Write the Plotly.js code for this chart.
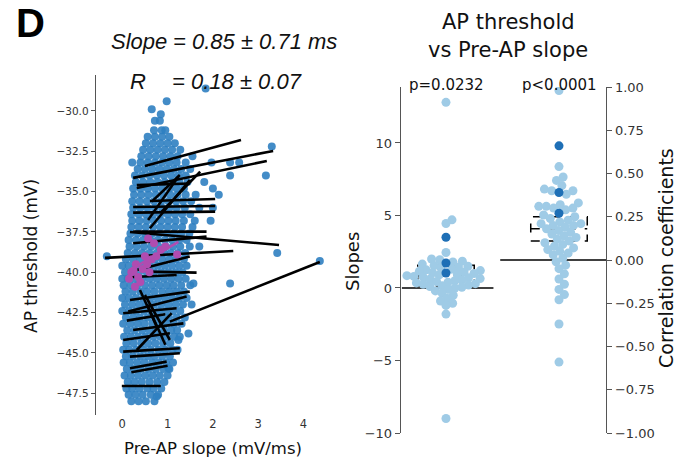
<!DOCTYPE html>
<html>
<head>
<meta charset="utf-8">
<script src="https://cdn.plot.ly/plotly-3.0.1.min.js"></script>
<style>html,body{margin:0;padding:0;background:#fff}#chart{width:687px;height:462px}</style>
</head>
<body>
<div id="chart"></div>
<script>
// ---------- DATA ----------
// Left panel: AP threshold (mV) rows and the Pre-AP slope (mV/ms) values of the points in each row
const thresholdRows = [-48.0, -47.6, -47.2, -46.8, -46.4, -46.0, -45.6, -45.2, -44.8, -44.4, -44.0, -43.6, -43.2, -42.8, -42.4, -42.0, -41.6, -41.2, -40.8, -40.4, -40.0, -39.6, -39.2, -38.8, -38.4, -38.0, -37.6, -37.2, -36.8, -36.4, -36.0, -35.6, -35.2, -34.8, -34.4, -34.0, -33.6, -33.2, -32.8, -32.4, -32.0, -31.6, -31.2, -30.6, -30.2];
const slopeRows = [
  [0.20, 0.36, 0.52, 0.71],
  [0.14, 0.29, 0.45, 0.63, 0.79],
  [0.09, 0.22, 0.38, 0.55, 0.69, 0.86],
  [0.12, 0.27, 0.43, 0.60, 0.77, 0.93],
  [0.05, 0.19, 0.35, 0.51, 0.67, 0.83, 1.00],
  [0.10, 0.25, 0.41, 0.58, 0.74, 0.91, 1.04],
  [0.03, 0.17, 0.33, 0.49, 0.66, 0.81, 0.97, 1.12],
  [0.08, 0.23, 0.40, 0.56, 0.71, 0.88, 1.05],
  [0.02, 0.15, 0.31, 0.47, 0.63, 0.80, 0.95, 1.11, 1.22],
  [0.09, 0.25, 0.42, 0.57, 0.73, 0.90, 1.06],
  [0.04, 0.19, 0.35, 0.51, 0.68, 0.84, 0.99, 1.15, 1.27],
  [0.11, 0.27, 0.44, 0.60, 0.75, 0.92, 1.08, 1.21],
  [0.02, 0.18, 0.34, 0.49, 0.66, 0.82, 0.98, 1.14, 1.31],
  [0.08, 0.24, 0.39, 0.56, 0.72, 0.87, 1.03, 1.20, 1.38],
  [0.00, 0.15, 0.31, 0.48, 0.64, 0.80, 0.96, 1.12, 1.28],
  [0.06, 0.22, 0.38, 0.53, 0.70, 0.86, 1.02, 1.18, 1.34, 1.53],
  [0.00, 0.14, 0.30, 0.46, 0.62, 0.78, 0.94, 1.10, 1.26, 1.42],
  [0.07, 0.23, 0.40, 0.55, 0.71, 0.88, 1.04, 1.20, 1.36],
  [0.03, 0.18, 0.33, 0.50, 0.66, 0.82, 0.98, 1.13, 1.30, 1.50],
  [0.00, 0.12, 0.27, 0.44, 0.60, 0.76, 0.92, 1.08, 1.24, 1.40],
  [0.06, 0.21, 0.37, 0.54, 0.70, 0.86, 1.02, 1.18, 1.33],
  [0.00, 0.14, 0.30, 0.46, 0.62, 0.78, 0.94, 1.10, 1.26, 1.42],
  [0.08, 0.24, 0.40, 0.56, 0.72, 0.88, 1.04, 1.19, 1.36],
  [0.12, 0.28, 0.44, 0.60, 0.76, 0.92, 1.07, 1.23, 1.39],
  [0.16, 0.32, 0.48, 0.64, 0.80, 0.96, 1.12, 1.28, 1.49, 1.70],
  [0.14, 0.30, 0.46, 0.62, 0.78, 0.94, 1.10, 1.26, 1.42],
  [0.18, 0.34, 0.50, 0.66, 0.82, 0.98, 1.14, 1.30, 1.48],
  [0.20, 0.36, 0.52, 0.68, 0.84, 1.00, 1.16, 1.32, 1.55],
  [0.22, 0.38, 0.54, 0.70, 0.86, 1.02, 1.18, 1.36, 1.60, 1.95],
  [0.20, 0.36, 0.52, 0.68, 0.84, 1.00, 1.16, 1.32, 1.50],
  [0.24, 0.40, 0.56, 0.72, 0.88, 1.04, 1.20, 1.38, 1.70, 2.00],
  [0.22, 0.38, 0.54, 0.70, 0.86, 1.02, 1.18, 1.34, 1.52],
  [0.26, 0.42, 0.58, 0.74, 0.90, 1.06, 1.22, 1.40, 1.62, 2.13],
  [0.24, 0.40, 0.56, 0.72, 0.88, 1.04, 1.20, 1.36, 2.00],
  [0.30, 0.46, 0.62, 0.78, 0.94, 1.10, 1.26, 1.44, 1.81],
  [0.28, 0.44, 0.60, 0.76, 0.92, 1.08, 1.24, 1.40, 2.38, 3.17],
  [0.34, 0.50, 0.66, 0.82, 0.98, 1.14, 1.30, 1.50],
  [0.22, 0.40, 0.56, 0.72, 0.88, 1.04, 1.20, 1.40, 1.97, 2.38, 2.58],
  [0.42, 0.58, 0.74, 0.90, 1.06, 1.22, 1.55],
  [0.46, 0.62, 0.78, 0.94, 1.10, 1.28],
  [0.52, 0.68, 0.84, 1.00, 1.16],
  [0.56, 0.72, 0.88, 1.04],
  [0.70, 0.87, 0.95],
  [0.72, 0.83],
  [0.85]
];
const outlierSlope     = [0.65, 0.98, 1.84, 3.30, 3.42, 4.36, -0.34, 2.38, 1.57, 1.24, 1.46, 1.02, 0.76];
const outlierThreshold = [-29.9, -29.4, -28.6, -32.2, -38.8, -39.3, -39.0, -40.7, -40.7, -44.2, -43.8, -45.95, -47.7];

// highlighted example cell (magenta)
const exampleSlope     = [0.57, 1.21, 0.28, 0.35, 0.45, 0.55, 0.65, 0.75, 0.20, 0.40, 0.60, 0.50, 0.85, 0.30, 0.15, 0.95, 0.25, 0.70];
const exampleThreshold = [-37.9, -38.9, -40.9, -40.3, -39.8, -39.5, -39.2, -39.0, -40.0, -40.6, -40.0, -39.0, -38.6, -39.5, -40.4, -38.4, -39.9, -38.2];
const exampleFit = [0.17, -39.86, 1.24, -38.12];

// per-cell regression lines: [slope start, threshold start, slope end, threshold end]
const cellFits = [
  [0.50, -33.41, 2.62, -31.80], [0.24, -34.15, 3.33, -32.48], [0.32, -34.77, 3.19, -33.10],
  [0.61, -35.58, 2.05, -35.46], [0.24, -35.95, 2.05, -35.89], [0.65, -35.62, 1.27, -33.97],
  [0.57, -36.76, 1.24, -34.07], [0.61, -37.27, 1.49, -34.28], [0.87, -36.24, 1.72, -33.76],
  [0.24, -36.30, 2.05, -36.24], [0.24, -37.48, 1.86, -37.48], [0.17, -37.50, 3.46, -38.31],
  [-0.38, -39.11, 2.45, -38.68], [0.32, -39.86, 1.49, -39.03], [0.24, -38.20, 1.86, -37.79],
  [0.13, -40.31, 1.20, -40.17], [0.54, -39.96, 1.64, -40.02], [0.17, -41.72, 1.49, -41.20],
  [0.13, -42.44, 1.42, -41.51], [0.02, -42.54, 1.20, -42.23], [0.39, -41.10, 0.76, -43.37],
  [0.50, -41.41, 1.05, -44.20], [0.32, -44.82, 1.09, -42.54], [0.24, -43.58, 1.35, -43.17],
  [0.02, -44.20, 1.05, -43.78], [0.02, -44.92, 1.27, -44.71], [0.17, -45.23, 1.27, -45.02],
  [0.17, -45.95, 0.98, -45.54], [-0.01, -47.05, 0.85, -47.05], [1.05, -43.06, 4.36, -39.36],
  [0.10, -43.00, 0.95, -42.60], [0.55, -42.00, 0.95, -44.50], [0.20, -46.20, 1.00, -45.80],
  [0.32, -34.60, 1.49, -34.50]
];

// Right panel: per-cell slopes and correlation coefficients
const slopeLight = [12.8, 4.7, 4.45, 2.45, 2.0, 1.95, 1.85, 1.8, 1.65, 1.55, 1.5, 1.45, 1.4, 1.3, 1.25, 1.2, 1.15, 1.1, 1.05, 1.0, 0.95, 0.9, 0.85, 0.8, 0.75, 0.7, 0.65, 0.6, 0.55, 0.5, 0.45, 0.4, 0.35, 0.3, 0.25, 0.2, 0.15, 0.1, 0.05, 0.0, -0.1, -0.2, -0.35, -0.5, -0.7, -0.9, -1.05, -1.2, -1.8, -9.0];
const slopeDark  = [3.5, 1.72, 1.03];
const corrLight  = [0.98, 0.54, 0.48, 0.46, 0.43, 0.41, 0.40, 0.40, 0.38, 0.33, 0.32, 0.31, 0.31, 0.30, 0.30, 0.29, 0.26, 0.25, 0.24, 0.23, 0.22, 0.21, 0.21, 0.20, 0.20, 0.19, 0.18, 0.17, 0.16, 0.15, 0.14, 0.13, 0.12, 0.11, 0.10, 0.09, 0.08, 0.07, 0.06, 0.05, 0.04, 0.03, 0.01, -0.01, -0.03, -0.05, -0.08, -0.11, -0.14, -0.17, -0.20, -0.23, -0.37, -0.59];
const corrDark   = [0.66, 0.39, 0.27];
const slopeMean = 0.85, slopeSD = 0.71;
const corrMean = 0.18, corrSD = 0.07;
const pLabels = ["p=0.0232", "p<0.0001"];

// ---------- GEOMETRY ----------
const W = 687, H = 462;
const px = x => x / W, py = y => 1 - y / H;
const rightXRange = [-0.398, 1.416];
const slopeRange = [-10, 13.86], corrRange = [-1, 1];
const rightPxW = 606 - 401, rightPxH = 433 - 87;
const pxPerX = rightPxW / (rightXRange[1] - rightXRange[0]);
const pxPerSlope = rightPxH / (slopeRange[1] - slopeRange[0]);
const pxPerCorr = rightPxH / (corrRange[1] - corrRange[0]);

// beeswarm placement computed from values; highlighted points are placed first
function swarm(values, nFirstLast, center, pyPerUnit, d) {
  const n = values.length;
  const pri = [], rest = [];
  for (let i = 0; i < n; i++) (i >= n - nFirstLast ? pri : rest).push(i);
  rest.sort((a, b) => values[a] - values[b]);
  const order = pri.concat(rest);
  const placed = [], xs = new Array(n);
  for (const i of order) {
    const y = values[i] * pyPerUnit;
    const cands = [0];
    for (const p of placed) {
      const dy = Math.abs(p.y - y);
      if (dy < d) { const dx = Math.sqrt(d * d - dy * dy); cands.push(p.x + dx, p.x - dx); }
    }
    cands.sort((a, b) => Math.abs(a) - Math.abs(b));
    let best = 0;
    for (const c of cands) {
      if (placed.every(p => (p.x - c) ** 2 + (p.y - y) ** 2 >= d * d - 1e-6)) { best = c; break; }
    }
    placed.push({ x: best, y });
    xs[i] = center + best / pxPerX;
  }
  return xs;
}

// ---------- BUILD TRACES ----------
const scX = [], scY = [];
thresholdRows.forEach((t, i) => slopeRows[i].forEach(s => { scX.push(s); scY.push(t); }));
outlierSlope.forEach((s, i) => { scX.push(s); scY.push(outlierThreshold[i]); });

const lnX = [], lnY = [];
cellFits.forEach(f => { lnX.push(f[0], f[2], null); lnY.push(f[1], f[3], null); });

const blue = '#2f7fc1', magenta = '#b04cb0', light = '#9fcbe6', dark = '#1e6fb6';

const sAll = slopeLight.concat(slopeDark);
const sX = swarm(sAll, slopeDark.length, 0, pxPerSlope, 7);
const cAll = corrLight.concat(corrDark);
const cX = swarm(cAll, corrDark.length, 1, pxPerCorr, 7.5);
const nSL = slopeLight.length, nCL = corrLight.length;

const traces = [
  { x: scX, y: scY, xaxis: 'x', yaxis: 'y', type: 'scatter', mode: 'markers',
    marker: { size: 8, color: blue, opacity: 0.9 }, hoverinfo: 'skip' },
  { x: lnX, y: lnY, xaxis: 'x', yaxis: 'y', type: 'scatter', mode: 'lines',
    line: { color: '#000', width: 2.6 }, connectgaps: false, hoverinfo: 'skip' },
  { x: exampleSlope, y: exampleThreshold, xaxis: 'x', yaxis: 'y', type: 'scatter', mode: 'markers',
    marker: { size: 8, color: magenta }, hoverinfo: 'skip' },
  { x: [exampleFit[0], exampleFit[2]], y: [exampleFit[1], exampleFit[3]], xaxis: 'x', yaxis: 'y',
    type: 'scatter', mode: 'lines', line: { color: magenta, width: 2.6 }, hoverinfo: 'skip' },
  { x: sX.slice(0, nSL), y: slopeLight, xaxis: 'x2', yaxis: 'y2', type: 'scatter', mode: 'markers',
    marker: { size: 9, color: light }, hoverinfo: 'skip' },
  { x: sX.slice(nSL), y: slopeDark, xaxis: 'x2', yaxis: 'y2', type: 'scatter', mode: 'markers',
    marker: { size: 9, color: dark }, hoverinfo: 'skip' },
  { x: cX.slice(0, nCL), y: corrLight, xaxis: 'x2', yaxis: 'y3', type: 'scatter', mode: 'markers',
    marker: { size: 9, color: light }, hoverinfo: 'skip' },
  { x: cX.slice(nCL), y: corrDark, xaxis: 'x2', yaxis: 'y3', type: 'scatter', mode: 'markers',
    marker: { size: 9, color: dark }, hoverinfo: 'skip' }
];

const axisLine = '#555';
const tickFontL = { family: 'DejaVu Sans', size: 10.5, color: '#333' };
const tickFontR = { family: 'DejaVu Sans', size: 13, color: '#333' };

const shapes = [
  { type: 'line', xref: 'x2', yref: 'y2', x0: -0.39, x1: 0.42, y0: 0, y1: 0, line: { color: '#000', width: 1.5 }, layer: 'below' },
  { type: 'line', xref: 'x2', yref: 'y3', x0: 0.48, x1: 1.416, y0: 0, y1: 0, line: { color: '#000', width: 1.5 }, layer: 'below' },
  { type: 'rect', xref: 'x2', yref: 'y2', x0: -0.25, x1: 0.25, y0: slopeMean - slopeSD, y1: slopeMean + slopeSD, line: { color: '#000', width: 1.5, dash: 'dash' }, layer: 'below' },
  { type: 'line', xref: 'x2', yref: 'y2', x0: -0.25, x1: 0.25, y0: slopeMean, y1: slopeMean, line: { color: '#000', width: 1.5, dash: 'dash' }, layer: 'below' },
  { type: 'rect', xref: 'x2', yref: 'y3', x0: 0.75, x1: 1.25, y0: corrMean - corrSD, y1: corrMean + corrSD, line: { color: '#000', width: 1.5, dash: 'dash' }, layer: 'below' },
  { type: 'line', xref: 'x2', yref: 'y3', x0: 0.75, x1: 1.25, y0: corrMean, y1: corrMean, line: { color: '#000', width: 1.5, dash: 'dash' }, layer: 'below' }
];

const ann = (text, x, y, opts) => Object.assign({
  text, x: px(x), y: py(y), xref: 'paper', yref: 'paper', showarrow: false,
  xanchor: 'center', yanchor: 'middle', font: { family: 'DejaVu Sans', size: 17, color: '#111' }
}, opts || {});

const annotations = [
  ann('<b>D</b>', 30, 23, { font: { family: 'Liberation Sans', size: 40, color: '#000' } }),
  ann('<i>Slope</i>', 169, 41, { xanchor: 'right', font: { family: 'Liberation Sans', size: 22, color: '#111' } }),
  ann('<i>= 0.85 ± 0.71 ms</i>', 171, 41, { xanchor: 'left', font: { family: 'Liberation Sans', size: 22, color: '#111' } }),
  ann('<i>R</i>', 128, 81.5, { xanchor: 'left', font: { family: 'Liberation Sans', size: 22, color: '#111' } }),
  ann('<i>= 0.18 ± 0.07</i>', 170, 81.5, { xanchor: 'left', font: { family: 'Liberation Sans', size: 22, color: '#111' } }),
  ann('AP threshold (mV)', 31, 256, { textangle: -90, font: { family: 'DejaVu Sans', size: 17, color: '#111' } }),
  ann('Pre-AP slope (mV/ms)', 213, 448, { font: { family: 'DejaVu Sans', size: 16.5, color: '#111' } }),
  ann('AP threshold', 508, 22, { font: { family: 'DejaVu Sans', size: 21, color: '#111' } }),
  ann('vs Pre-AP slope', 508, 50, { font: { family: 'DejaVu Sans', size: 21, color: '#111' } }),
  ann(pLabels[0], 446, 85, { font: { family: 'DejaVu Sans', size: 15, color: '#111' } }),
  ann(pLabels[1], 559, 85, { font: { family: 'DejaVu Sans', size: 15, color: '#111' } }),
  ann('Slopes', 352, 262, { textangle: -90, font: { family: 'DejaVu Sans', size: 18, color: '#111' } }),
  ann('Correlation coefficients', 666, 258, { textangle: -90, font: { family: 'DejaVu Sans', size: 19, color: '#111' } })
];

const layout = {
  width: W, height: H, margin: { l: 0, r: 0, t: 0, b: 0 },
  paper_bgcolor: '#fff', plot_bgcolor: 'rgba(0,0,0,0)', showlegend: false,
  xaxis: { domain: [px(96), px(330)], range: [-0.58, 4.585], anchor: 'y',
    tickvals: [0, 1, 2, 3, 4], ticks: '', ticklen: 0,
    showline: false, showgrid: false, zeroline: false, tickfont: { family: 'DejaVu Sans', size: 11.5, color: '#333' } },
  yaxis: { domain: [py(415), py(75)], range: [-48.85, -27.77], anchor: 'x',
    tickvals: [-47.5, -45, -42.5, -40, -37.5, -35, -32.5, -30], tickformat: '.1f',
    ticks: 'outside', ticklen: 4, tickcolor: axisLine, showline: true, linecolor: axisLine, linewidth: 1.3,
    showgrid: false, zeroline: false, tickfont: tickFontL },
  xaxis2: { domain: [px(401), px(606)], range: rightXRange, anchor: 'y2', visible: false },
  yaxis2: { domain: [py(433), py(87)], range: slopeRange, anchor: 'x2', side: 'left',
    tickvals: [-10, -5, 0, 5, 10], ticks: 'outside', ticklen: 5, tickcolor: axisLine,
    showline: true, linecolor: axisLine, linewidth: 1.3, showgrid: false, zeroline: false, tickfont: tickFontR },
  yaxis3: { overlaying: 'y2', range: corrRange, anchor: 'x2', side: 'right',
    tickvals: [-1, -0.75, -0.5, -0.25, 0, 0.25, 0.5, 0.75, 1], tickformat: '.2f',
    ticks: 'outside', ticklen: 5, tickcolor: axisLine, showline: true, linecolor: axisLine, linewidth: 1.3,
    showgrid: false, zeroline: false, tickfont: tickFontR },
  shapes, annotations
};

Plotly.newPlot('chart', traces, layout, { staticPlot: true, displayModeBar: false });
</script>
</body>
</html>
